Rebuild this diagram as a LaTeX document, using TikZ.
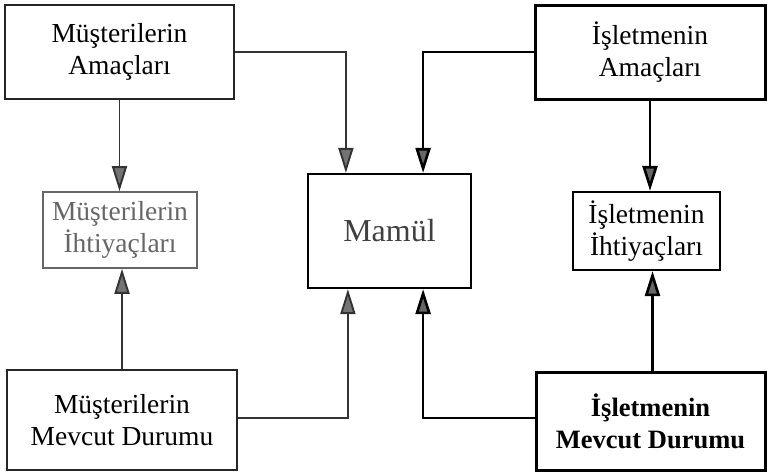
\documentclass[tikz,border=0pt]{standalone}
\usepackage{fontspec}
\setmainfont{Liberation Serif}
\usetikzlibrary{arrows.meta}
\newcommand\boxFont{\fontsize{27.5}{32}\selectfont}
\newcommand\boldFont{\fontsize{26.5}{32}\selectfont\bfseries}
\newcommand\mamulFont{\fontsize{32}{36}\selectfont}
\newcommand\inLeft{39pt}
\newcommand\inRight{-49pt}

\tikzset{
  box/.style={draw, rectangle, align=center, inner sep=0pt, font=\boxFont},
  lightbox/.style={box, line width=2.2pt, draw=black!85},
  greybox/.style={box, line width=1.6pt, draw=black!60, text=black!60},
  heavybox/.style={box, line width=3pt},
  leftline/.style={line width=1.9pt, draw=black!80, -{Triangle[length=25pt,width=15pt,fill=black!55]}},
  rightline/.style={line width=2.6pt, -{Triangle[length=25pt,width=15pt,fill=black!60]}}
}

\begin{document}
\begin{tikzpicture}[x=1pt,y=-1pt]
  \useasboundingbox (0,0) rectangle (767,472);

  % customer side
  \node[lightbox, minimum width=229pt, minimum height=94pt] (mAmac) at (119.5,52) {Müşterilerin\\Amaçları};
  \node[greybox, minimum width=154pt, minimum height=76pt] (mIht) at (120,230) {Müşterilerin\\İhtiyaçları};
  \node[lightbox, minimum width=230pt, minimum height=100pt] (mDur) at (122,420) {Müşterilerin\\Mevcut Durumu};

  % product
  \node[box, line width=2.2pt, minimum width=163pt, minimum height=114pt, font=\mamulFont, text=black!75] (mamul) at (389.5,231) {Mamül};

  % firm side
  \node[heavybox, minimum width=230pt, minimum height=94pt] (iAmac) at (650,52) {İşletmenin\\Amaçları};
  \node[box, line width=2.2pt, minimum width=147pt, minimum height=78pt] (iIht) at (646.5,231) {İşletmenin\\İhtiyaçları};
  \node[heavybox, minimum width=229pt, minimum height=98pt, font=\boldFont] (iDur) at (650.5,421) {İşletmenin\\Mevcut Durumu};

  \draw[leftline] (mAmac.south) -- (mAmac.south |- mIht.north);
  \draw[leftline] (mDur.north) -- (mDur.north |- mIht.south);
  \draw[leftline] (mAmac.east) -| ([xshift=\inLeft]mamul.north west);
  \draw[leftline] ([yshift=2pt]mDur.east) -| ([xshift=\inLeft+2pt]mamul.south west);

  \draw[rightline] (iAmac.west) -| ([xshift=\inRight]mamul.north east);
  \draw[rightline] ([yshift=3pt]iDur.west) -| ([xshift=\inRight]mamul.south east);
  \draw[rightline] (iAmac.south) -- (iAmac.south |- iIht.north);
  \draw[rightline] ([xshift=2pt]iDur.north) -- ([xshift=2pt]iDur.north |- iIht.south);
\end{tikzpicture}
\end{document}
